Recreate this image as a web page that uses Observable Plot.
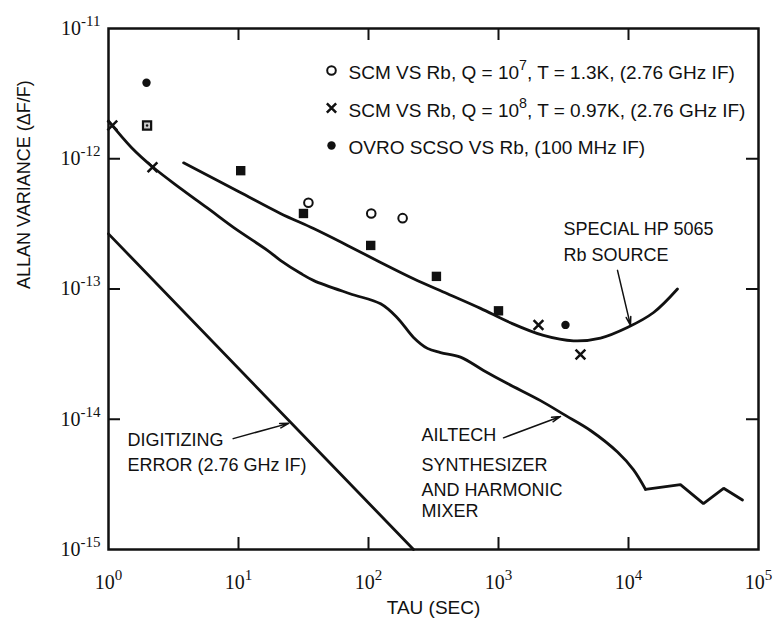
<!DOCTYPE html>
<html><head><meta charset="utf-8">
<script src="https://cdn.jsdelivr.net/npm/d3@7"></script>
<script src="https://cdn.jsdelivr.net/npm/@observablehq/plot@0.6"></script>
<style>body{margin:0;background:#fff} #chart svg{display:block}</style>
</head><body><div id="chart"></div>
<script>
// ---- axis ticks ----
const xTicks = [1, 10, 100, 1000, 10000, 100000];
const xTickLabels = ["10^0", "10^1", "10^2", "10^3", "10^4", "10^5"];
const yTicks = [1e-15, 1e-14, 1e-13, 1e-12, 1e-11];
const yTickLabels = ["10^-15", "10^-14", "10^-13", "10^-12", "10^-11"];

// ---- curves (tau in s, Allan variance) ----
const hpTau = [3.78, 10, 21, 37.8, 68.9, 124, 222, 405, 727, 1237, 2218, 3776, 6095, 9800, 15600, 23800];
const hpVar = [9.3e-13, 5.6e-13, 3.8e-13, 2.91e-13, 2.16e-13, 1.6e-13, 1.2e-13, 9.2e-14, 7.1e-14, 5.5e-14, 4.4e-14, 4.0e-14, 4.2e-14, 5.06e-14, 6.6e-14, 1.0e-13];

const ailtechTau = [1, 1.5, 2.2, 3.6, 6, 9.2, 16.7, 21, 30, 38, 72, 124, 167, 222, 284, 358, 510, 767, 1172, 2104, 3275, 5100, 8230, 10900, 13500];
const ailtechVar = [1.95e-12, 1.22e-12, 8.6e-13, 5.9e-13, 4.06e-13, 2.96e-13, 1.98e-13, 1.66e-13, 1.32e-13, 1.16e-13, 9.2e-14, 7.7e-14, 6.0e-14, 4.25e-14, 3.5e-14, 3.25e-14, 3.0e-14, 2.37e-14, 1.88e-14, 1.39e-14, 1.07e-14, 8.2e-15, 5.6e-15, 4.1e-15, 2.9e-15];
const ailtechTailTau = [13500, 25100, 37700, 53900, 75300];
const ailtechTailVar = [2.9e-15, 3.15e-15, 2.25e-15, 2.95e-15, 2.4e-15];

const digitTau = [1, 222];
const digitVar = [2.65e-13, 1e-15];

// ---- measured points ----
const q7Tau = [34.5, 105, 183];
const q7Var = [4.6e-13, 3.8e-13, 3.5e-13];
const q8Tau = [1.07, 2.18, 2030, 4270];
const q8Var = [1.8e-12, 8.6e-13, 5.3e-14, 3.14e-14];
const ovroTau = [1.96, 3275];
const ovroVar = [3.83e-12, 5.3e-14];
const bothTau = [10.4, 31.6, 104, 333, 1000];
const bothVar = [8.1e-13, 3.8e-13, 2.16e-13, 1.25e-13, 6.8e-14];
const bothOpenTau = [1.98];
const bothOpenVar = [1.8e-12];

// ---- legend & annotations ----
const legendLabels = [
  "SCM VS Rb, Q = 10^7, T = 1.3K, (2.76 GHz IF)",
  "SCM VS Rb, Q = 10^8, T = 0.97K, (2.76 GHz IF)",
  "OVRO SCSO VS Rb, (100 MHz IF)"
];
const annotations = [
  {text: "SPECIAL HP 5065", tau: 3162, v: 2.89e-13},
  {text: "Rb SOURCE", tau: 3162, v: 1.81e-13},
  {text: "DIGITIZING", tau: 1.4, v: 6.93e-15},
  {text: "ERROR (2.76 GHz IF)", tau: 1.4, v: 4.45e-15},
  {text: "AILTECH", tau: 256, v: 7.5e-15},
  {text: "SYNTHESIZER", tau: 256, v: 4.45e-15},
  {text: "AND HARMONIC", tau: 256, v: 2.86e-15},
  {text: "MIXER", tau: 256, v: 1.98e-15}
];
const arrows = [
  {tau1: 8230, v1: 1.39e-13, tau2: 10360, v2: 5.25e-14},
  {tau1: 1093, v1: 7.2e-15, tau2: 3000, v2: 1.05e-14},
  {tau1: 9.1, v1: 7.1e-15, tau2: 24.3, v2: 9.3e-15}
];

const zip = (xs, ys) => xs.map((x, i) => ({x, y: ys[i]}));

const W = 774, H = 618, mL = 108, mR = 16, mT = 28, mB = 69;
const frameW = W - mL - mR, frameH = H - mT - mB, tickLen = 12;
const ink = "#111";
const serif = "'Liberation Serif', 'DejaVu Serif', serif";
const sans = "'Liberation Sans', Arial, sans-serif";
const innerX = xTicks.slice(1, -1), innerY = yTicks.slice(1, -1);

const legendSymbols = [
  {symbol: "circle", fill: "white", stroke: ink, strokeWidth: 2, r: 4.3},
  {symbol: "times", fill: "none", stroke: ink, strokeWidth: 2.5, r: 4.3},
  {symbol: "circle", fill: ink, stroke: "none", strokeWidth: 0, r: 4.2}
];
const legendMarks = legendLabels.flatMap((lab, i) => [
  Plot.dot([lab], {frameAnchor: "top-left", dx: 223, dy: 42 + i * 37.5, ...legendSymbols[i]}),
  Plot.text([lab], {text: d => d, frameAnchor: "top-left", dx: 240, dy: 44.5 + i * 37.7,
    textAnchor: "start", lineAnchor: "middle", fontSize: 19, fill: ink})
]);

const chart = Plot.plot({
  width: W, height: H,
  marginLeft: mL, marginRight: mR, marginTop: mT, marginBottom: mB,
  style: {fontFamily: sans, fontSize: "18px", background: "#fff", color: ink},
  x: {type: "log", domain: [1, 1e5]},
  y: {type: "log", domain: [1e-15, 1e-11]},
  marks: [
    Plot.axisX({ticks: xTicks, tickFormat: d => xTickLabels[xTicks.indexOf(d)], tickSize: 0, tickPadding: 25,
      fontSize: 20, fontFamily: serif, label: null, fill: ink}),
    Plot.axisY({ticks: yTicks, tickFormat: d => yTickLabels[yTicks.indexOf(d)], tickSize: 0, tickPadding: 8,
      fontSize: 20, fontFamily: serif, label: null, fill: ink}),
    Plot.tickX(innerX, {x: d => d, insetTop: frameH - tickLen, stroke: ink, strokeWidth: 2}),
    Plot.tickX(innerX, {x: d => d, insetBottom: frameH - tickLen, stroke: ink, strokeWidth: 2}),
    Plot.tickY(innerY, {y: d => d, insetRight: frameW - tickLen, stroke: ink, strokeWidth: 2}),
    Plot.tickY(innerY, {y: d => d, insetLeft: frameW - tickLen, stroke: ink, strokeWidth: 2}),
    Plot.frame({stroke: ink, strokeWidth: 2.5}),
    Plot.line(zip(digitTau, digitVar), {x: "x", y: "y", stroke: ink, strokeWidth: 2.8}),
    Plot.line(zip(hpTau, hpVar), {x: "x", y: "y", curve: "catmull-rom", stroke: ink, strokeWidth: 2.8}),
    Plot.line(zip(ailtechTau, ailtechVar), {x: "x", y: "y", curve: "catmull-rom", stroke: ink, strokeWidth: 2.8}),
    Plot.line(zip(ailtechTailTau, ailtechTailVar), {x: "x", y: "y", stroke: ink, strokeWidth: 2.8, strokeLinejoin: "miter"}),
    Plot.dot(zip(q7Tau, q7Var), {x: "x", y: "y", r: 4.3, fill: "white", stroke: ink, strokeWidth: 2}),
    Plot.dot(zip(q8Tau, q8Var), {x: "x", y: "y", symbol: "times", r: 4.5, stroke: ink, strokeWidth: 2.5}),
    Plot.dot(zip(ovroTau, ovroVar), {x: "x", y: "y", r: 4.2, fill: ink}),
    Plot.dot(zip(bothTau, bothVar), {x: "x", y: "y", symbol: "square", r: 5.3, fill: ink}),
    Plot.dot(zip(bothOpenTau, bothOpenVar), {x: "x", y: "y", symbol: "square", r: 4.6, fill: "#ccc", stroke: ink, strokeWidth: 2.2}),
    Plot.dot(zip(bothOpenTau, bothOpenVar), {x: "x", y: "y", r: 1.2, fill: ink}),
    ...legendMarks,
    Plot.text(annotations, {x: "tau", y: "v", text: "text", textAnchor: "start", lineAnchor: "middle", fontSize: 18, fill: ink}),
    Plot.arrow(arrows, {x1: "tau1", y1: "v1", x2: "tau2", y2: "v2", stroke: ink, strokeWidth: 1.5, headLength: 9, headAngle: 30}),
    Plot.text(["TAU (SEC)"], {text: d => d, frameAnchor: "bottom", dy: 58, lineAnchor: "middle", fontSize: 19, fill: ink}),
    Plot.text(["ALLAN VARIANCE (\u0394F/F)"], {text: d => d, frameAnchor: "left", dx: -84, rotate: -90, lineAnchor: "middle", fontSize: 18, fill: ink})
  ]
});

// Turn "a^b" into real superscripts
d3.select(chart).selectAll("text").each(function() {
  const s = this.textContent;
  if (!s.includes("^")) return;
  const parts = s.split(/\^(-?\d+)/);
  this.textContent = "";
  let raised = false;
  parts.forEach((p, i) => {
    if (!p) return;
    const t = d3.select(this).append("tspan").text(p);
    if (i % 2 === 1) { t.attr("dy", -9).attr("font-size", "0.75em"); raised = true; }
    else if (raised) { t.attr("dy", 9); raised = false; }
  });
});

document.getElementById("chart").appendChild(chart);
</script>
</body></html>
